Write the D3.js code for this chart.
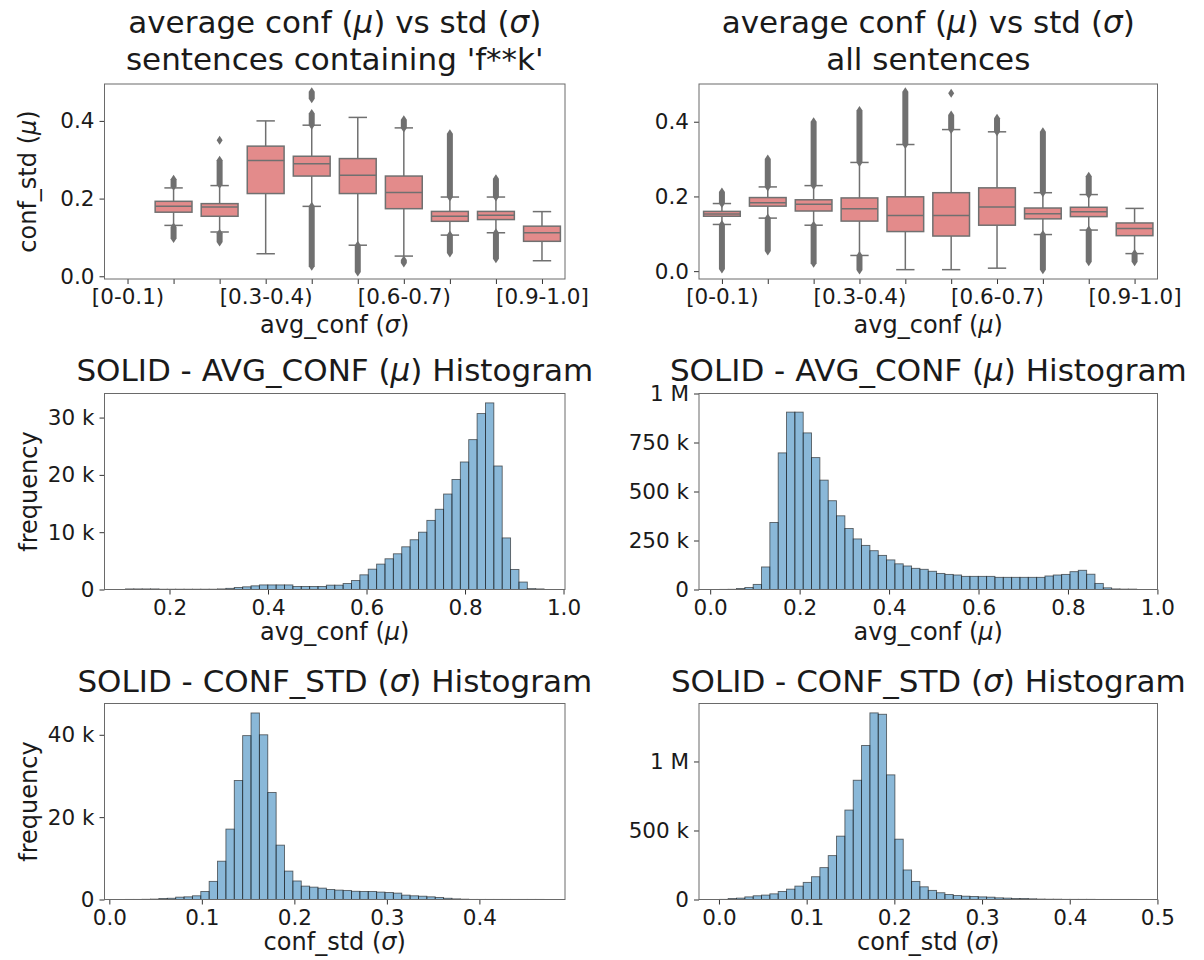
<!DOCTYPE html>
<html lang="en">
<head>
<meta charset="UTF-8">
<script src="https://cdn.jsdelivr.net/npm/d3@7"></script>
<title>SOLID conf plots</title>
<style>
    body { margin: 0; background: #fff; }
    text { font-family: "DejaVu Sans", sans-serif; fill: #1a1a1a; }
</style>
</head>
<body>
<div id="fig"></div>
<script>
/*------------------- data --------------------*/
const bucketLabels = ["[0-0.1)", "[0.1-0.2)", "[0.2-0.3)", "[0.3-0.4)", "[0.4-0.5)",
    "[0.5-0.6)", "[0.6-0.7)", "[0.7-0.8)", "[0.8-0.9)", "[0.9-1.0]"];

// [whisker low, q1, median, q3, whisker high] per bucket
const fwordBoxStats = [
    null,
    [0.131, 0.165, 0.180, 0.193, 0.2275],
    [0.114, 0.1545, 0.1785, 0.187, 0.2335],
    [0.058, 0.213, 0.298, 0.335, 0.400],
    [0.180, 0.258, 0.290, 0.309, 0.389],
    [0.080, 0.213, 0.260, 0.303, 0.409],
    [0.052, 0.174, 0.216, 0.258, 0.382],
    [0.106, 0.1415, 0.1545, 0.167, 0.204],
    [0.112, 0.146, 0.157, 0.167, 0.204],
    [0.040, 0.090, 0.112, 0.129, 0.1665]
];
// outlier runs [from, to]
const fwordFliers = [
    [],
    [[0.232, 0.250], [0.097, 0.127]],
    [[0.237, 0.299], [0.350, 0.350], [0.088, 0.111]],
    [],
    [[0.389, 0.419], [0.457, 0.475], [0.026, 0.180]],
    [[0.011, 0.080]],
    [[0.382, 0.403], [0.034, 0.042]],
    [[0.204, 0.367], [0.060, 0.106]],
    [[0.204, 0.251], [0.045, 0.112]],
    []
];

const allBoxStats = [
    [0.125, 0.147, 0.153, 0.160, 0.181],
    [0.142, 0.174, 0.183, 0.197, 0.2255],
    [0.123, 0.161, 0.179, 0.191, 0.229],
    [0.042, 0.134, 0.167, 0.196, 0.291],
    [0.004, 0.106, 0.149, 0.199, 0.339],
    [0.004, 0.094, 0.149, 0.210, 0.379],
    [0.008, 0.123, 0.172, 0.223, 0.373],
    [0.098, 0.140, 0.154, 0.169, 0.210],
    [0.110, 0.146, 0.159, 0.171, 0.205],
    [0.047, 0.095, 0.114, 0.129, 0.168]
];
const allFliers = [
    [[0.181, 0.212], [0.006, 0.125]],
    [[0.2255, 0.300], [0.054, 0.142]],
    [[0.229, 0.400], [0.021, 0.123]],
    [[0.291, 0.430], [0.003, 0.042]],
    [[0.339, 0.480]],
    [[0.379, 0.418], [0.476, 0.476]],
    [[0.373, 0.409]],
    [[0.210, 0.373], [0.004, 0.098]],
    [[0.205, 0.254], [0.025, 0.110]],
    [[0.025, 0.047]]
];

// y limits of the two box plots
const boxYLimits = [[-0.007, 0.495], [-0.021, 0.501]];
const boxYTicks = [0, 0.2, 0.4];

// histograms: first bin edge, bin width, counts in thousands
const fwordAvgStart = 0.1105, fwordAvgWidth = 0.017;
const fwordAvgCounts = [0.1, 0.1, 0.1, 0.1, 0.05, 0.05, 0.05, 0.05, 0.05, 0.05,
    0.05, 0.1, 0.2, 0.35, 0.47, 0.64, 0.8, 0.8, 0.8, 0.8,
    0.52, 0.52, 0.52, 0.52, 0.76, 0.76, 1.05, 1.57, 2.56, 3.55,
    4.43, 5.36, 6.23, 7.45, 8.68, 10.0, 12.06, 14.0, 16.66, 19.2,
    22.25, 26.15, 30.7, 32.56, 21.55, 9.0, 3.5, 1.3, 0.15, 0.1];

const allAvgStart = 0.0216, allAvgWidth = 0.01864;
const allAvgCounts = [0.5, 1, 5, 10, 26, 115, 342, 697, 905, 905,
    799, 673, 558, 453, 376, 311, 258, 225, 198, 174,
    151, 131, 120, 108, 103, 93, 82, 77, 74, 67,
    67, 67, 67, 62, 62, 62, 62, 62, 62, 69,
    74, 77, 91, 98, 78, 31, 8.5, 3, 2, 2];

const fwordStdStart = 0.0174, fwordStdWidth = 0.00905;
const fwordStdCounts = [0.02, 0.02, 0.05, 0.1, 0.24, 0.3, 0.57, 0.65, 0.9, 1.95,
    4.4, 9.3, 17.1, 28.9, 39.8, 45.3, 40.0, 26.0, 13.2, 6.9,
    4.5, 3.25, 3.0, 2.76, 2.44, 2.28, 2.2, 2.0, 1.95, 1.95,
    1.8, 1.7, 1.55, 1.06, 0.9, 0.8, 0.65, 0.5, 0.3, 0.15,
    0.08, 0.02, 0.02, 0.02, 0.02, 0.02, 0.02, 0.02, 0.02, 0.02];

const allStdStart = 0.001, allStdWidth = 0.009506;
const allStdCounts = [1, 7, 10, 19, 27, 32, 41, 58, 75, 97,
    124, 165, 231, 318, 459, 648, 864, 1116, 1352, 1342,
    903, 437, 214, 131, 92, 66, 49, 36, 29, 24,
    22, 19, 17, 12, 10, 7, 7, 5, 3, 2,
    2, 1, 1, 1, 1, 0.5, 0.5, 0.5, 0.5, 0.5];

// y axis tops (thousands) and tick values
const histYMax = [34.2, 1000, 47.6, 1420];
const histYTicks = [[0, 10, 20, 30], [0, 250, 500, 750, 1000], [0, 20, 40], [0, 500, 1000]];
const histXTicks = [[0.2, 0.4, 0.6, 0.8, 1.0], [0, 0.2, 0.4, 0.6, 0.8, 1.0],
    [0, 0.1, 0.2, 0.3, 0.4], [0, 0.1, 0.2, 0.3, 0.4, 0.5]];

/*------------------- layout --------------------*/
const svg = d3.select("#fig").append("svg").attr("width", 1204).attr("height", 960);

const cols = [[104.5, 565], [699, 1157.5]];
const rows = [[84, 279], [393.5, 589.5], [703.5, 899.5]];
const TICK_FS = 21.5, LABEL_FS = 24, TITLE_FS = 31;

function panel(ci, ri) {
    return { x0: cols[ci][0], x1: cols[ci][1], y0: rows[ri][0], y1: rows[ri][1] };
}

// text with italic math pieces
function rich(sel, parts) {
    parts.forEach(p => {
        const t = sel.append("tspan").text(p[0]);
        if (p[1]) t.style("font-style", "italic");
    });
    return sel;
}

function addText(x, y, parts, size, rotate) {
    const t = svg.append("text")
        .attr("transform", `translate(${x},${y})` + (rotate ? ` rotate(${rotate})` : ""))
        .attr("text-anchor", "middle")
        .attr("font-size", size);
    return rich(t, parts);
}

function styleAxis(g) {
    g.attr("font-family", null).attr("font-size", null);
    g.select(".domain").remove();
    g.selectAll(".tick line").attr("stroke", "#333").attr("stroke-width", 1);
    g.selectAll(".tick text").attr("font-size", TICK_FS).attr("fill", "#1a1a1a");
}

function drawFrame(p) {
    svg.append("rect")
        .attr("x", p.x0).attr("y", p.y0)
        .attr("width", p.x1 - p.x0).attr("height", p.y1 - p.y0)
        .attr("fill", "none").attr("stroke", "#6a6a6a").attr("stroke-width", 1);
}

const engFormat = v => v === 0 ? "0" : (v >= 1000 ? (v / 1000) + " M" : v + " k");

/*------------------- box plots --------------------*/
function drawBoxes(p, stats, fliers, ylim, titleLines, xlabel, ylabel) {
    const x = d3.scaleLinear().domain([-0.5, bucketLabels.length - 0.5]).range([p.x0, p.x1]);
    const y = d3.scaleLinear().domain(ylim).range([p.y1, p.y0]);
    const unit = x(1) - x(0);
    const bw = unit * 0.8, cw = bw * 0.5;
    const lineCol = "#707070";

    const g = svg.append("g");
    stats.forEach((s, i) => {
        if (!s) return;
        const cx = x(i);
        const [lo, q1, med, q3, hi] = s;
        // whiskers
        g.append("line").attr("x1", cx).attr("x2", cx).attr("y1", y(q3)).attr("y2", y(hi))
            .attr("stroke", lineCol).attr("stroke-width", 1.5);
        g.append("line").attr("x1", cx).attr("x2", cx).attr("y1", y(q1)).attr("y2", y(lo))
            .attr("stroke", lineCol).attr("stroke-width", 1.5);
        [lo, hi].forEach(v => g.append("line")
            .attr("x1", cx - cw / 2).attr("x2", cx + cw / 2).attr("y1", y(v)).attr("y2", y(v))
            .attr("stroke", lineCol).attr("stroke-width", 1.5));
        g.append("rect").attr("x", cx - bw / 2).attr("y", y(q3))
            .attr("width", bw).attr("height", y(q1) - y(q3))
            .attr("fill", "#e38b8b").attr("stroke", lineCol).attr("stroke-width", 1.5);
        g.append("line").attr("x1", cx - bw / 2).attr("x2", cx + bw / 2)
            .attr("y1", y(med)).attr("y2", y(med))
            .attr("stroke", lineCol).attr("stroke-width", 1.5);
    });

    // outliers: runs of diamonds
    const dw = 3, dh = 4.5;
    fliers.forEach((runs, i) => {
        const cx = x(i);
        runs.forEach(r => {
            const yt = y(r[1]), yb = y(r[0]);
            const path = `M${cx},${yt - dh} L${cx + dw},${yt} L${cx + dw},${yb} L${cx},${yb + dh}` +
                ` L${cx - dw},${yb} L${cx - dw},${yt} Z`;
            g.append("path").attr("d", path).attr("fill", lineCol);
        });
    });

    const xa = svg.append("g").attr("transform", `translate(0,${p.y1})`)
        .call(d3.axisBottom(x).tickValues(d3.range(bucketLabels.length))
            .tickFormat(i => i % 3 === 0 ? bucketLabels[i] : "")
            .tickSize(5).tickPadding(5).tickSizeOuter(0));
    styleAxis(xa);
    const ya = svg.append("g").attr("transform", `translate(${p.x0},0)`)
        .call(d3.axisLeft(y).tickValues(boxYTicks).tickFormat(d3.format(".1f"))
            .tickSize(5).tickPadding(5).tickSizeOuter(0));
    styleAxis(ya);
    drawFrame(p);

    const cxm = (p.x0 + p.x1) / 2;
    addText(cxm, 33, titleLines[0], TITLE_FS);
    addText(cxm, 70, titleLines[1], TITLE_FS);
    addText(cxm, 333, xlabel, LABEL_FS);
    if (ylabel) addText(36, (p.y0 + p.y1) / 2, ylabel, LABEL_FS, -90);
}

/*------------------- histograms --------------------*/
function drawHist(p, start, width, counts, idx, title, xlabel, ylabel, titleY, xlabelY) {
    const end = start + width * counts.length;
    const pad = (end - start) * 0.05;
    const x = d3.scaleLinear().domain([start - pad, end + pad]).range([p.x0, p.x1]);
    const y = d3.scaleLinear().domain([0, histYMax[idx]]).range([p.y1, p.y0]);

    svg.append("g").selectAll("rect")
        .data(counts)
        .enter()
        .append("rect")
        .attr("x", (d, i) => x(start + i * width))
        .attr("width", x(start + width) - x(start))
        .attr("y", d => y(d))
        .attr("height", d => y(0) - y(d))
        .attr("fill", "#1f77b4").attr("fill-opacity", 0.52)
        .attr("stroke", "#1a1a1a").attr("stroke-opacity", 0.65).attr("stroke-width", 0.9);

    const xa = svg.append("g").attr("transform", `translate(0,${p.y1})`)
        .call(d3.axisBottom(x).tickValues(histXTicks[idx]).tickFormat(d3.format(".1f"))
            .tickSize(5).tickPadding(5).tickSizeOuter(0));
    styleAxis(xa);
    const ya = svg.append("g").attr("transform", `translate(${p.x0},0)`)
        .call(d3.axisLeft(y).tickValues(histYTicks[idx]).tickFormat(engFormat)
            .tickSize(5).tickPadding(5).tickSizeOuter(0));
    styleAxis(ya);
    drawFrame(p);

    const cxm = (p.x0 + p.x1) / 2;
    addText(cxm, titleY, title, TITLE_FS);
    addText(cxm, xlabelY, xlabel, LABEL_FS);
    if (ylabel) addText(37, (p.y0 + p.y1) / 2, ylabel, LABEL_FS, -90);
}

const mu = [["\u03bc", 1]], sigma = [["\u03c3", 1]];

drawBoxes(panel(0, 0), fwordBoxStats, fwordFliers, boxYLimits[0],
    [[["average conf ("], ...mu, [") vs std ("], ...sigma, [")"]],
     [["sentences containing 'f**k'"]]],
    [["avg_conf ("], ...sigma, [")"]],
    [["conf_std ("], ...mu, [")"]]);

drawBoxes(panel(1, 0), allBoxStats, allFliers, boxYLimits[1],
    [[["average conf ("], ...mu, [") vs std ("], ...sigma, [")"]],
     [["all sentences"]]],
    [["avg_conf ("], ...mu, [")"]],
    null);

const avgTitle = [["SOLID - AVG_CONF ("], ...mu, [") Histogram"]];
const stdTitle = [["SOLID - CONF_STD ("], ...sigma, [") Histogram"]];
const avgLabel = [["avg_conf ("], ...mu, [")"]];
const stdLabel = [["conf_std ("], ...sigma, [")"]];
const freqLabel = [["frequency"]];

drawHist(panel(0, 1), fwordAvgStart, fwordAvgWidth, fwordAvgCounts, 0, avgTitle, avgLabel, freqLabel, 381, 640);
drawHist(panel(1, 1), allAvgStart, allAvgWidth, allAvgCounts, 1, avgTitle, avgLabel, null, 381, 640);
drawHist(panel(0, 2), fwordStdStart, fwordStdWidth, fwordStdCounts, 2, stdTitle, stdLabel, freqLabel, 692, 950);
drawHist(panel(1, 2), allStdStart, allStdWidth, allStdCounts, 3, stdTitle, stdLabel, null, 692, 950);
</script>
</body>
</html>
